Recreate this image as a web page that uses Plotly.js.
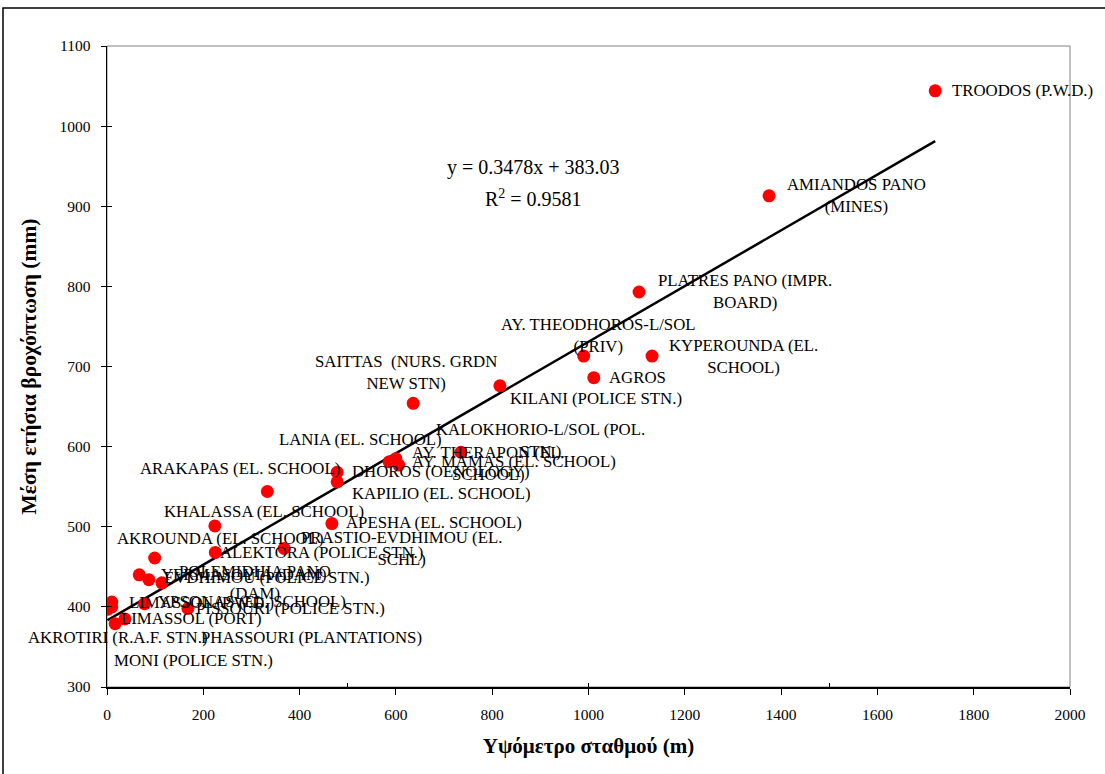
<!DOCTYPE html>
<html>
<head>
<meta charset="utf-8">
<script src="https://cdn.plot.ly/plotly-3.0.1.min.js"></script>
<style>html,body{margin:0;padding:0;background:#fff;}#chart{width:1105px;height:774px;}</style>
</head>
<body>
<div id="chart"></div>
<script>
// Station names
const stationNames = [
  "TROODOS (P.W.D.)",
  "AMIANDOS PANO<br>(MINES)",
  "PLATRES PANO (IMPR.<br>BOARD)",
  "AY. THEODHOROS-L/SOL<br>(PRIV)",
  "KYPEROUNDA (EL.<br>SCHOOL)",
  "AGROS",
  "KILANI (POLICE STN.)",
  "SAITTAS  (NURS. GRDN<br>NEW STN)",
  "KALOKHORIO-L/SOL (POL.<br>STN.)",
  "AY. THERAPON (EL.<br>SCHOOL)",
  "AY. MAMAS (EL. SCHOOL)",
  "LANIA (EL. SCHOOL)",
  "DHOROS (OENOLOGY)",
  "KAPILIO (EL. SCHOOL)",
  "ARAKAPAS (EL. SCHOOL)",
  "APESHA (EL. SCHOOL)",
  "KHALASSA (EL. SCHOOL)",
  "PRASTIO-EVDHIMOU (EL.<br>SCHL)",
  "AKROUNDA (EL. SCHOOL)",
  "ALEKTORA (POLICE STN.)",
  "YERMASOYIA (DAM)",
  "POLEMIDHIA PANO<br>(DAM)",
  "EVDHIMOU (POLICE STN.)",
  "LIMASSOL (P.W.D.)",
  "YPSONAS (EL. SCHOOL)",
  "PISSOURI (POLICE STN.)",
  "LIMASSOL (PORT)",
  "AKROTIRI (R.A.F. STN.)",
  "PHASSOURI (PLANTATIONS)",
  "MONI (POLICE STN.)"
];
// Station altitude (m)
const altitude = [1720, 1375, 1105, 990, 1132, 1011, 816, 636, 735, 600, 606, 478, 586, 478, 333, 467, 224, 368, 99, 225, 67, 87, 114, 10, 78, 168, 37, 1, 10, 17];
// Mean annual rainfall (mm)
const rainfall = [1044, 913, 793, 713, 713, 686, 676, 654, 593, 585, 577, 568, 581, 556, 544, 504, 501, 473, 461, 468, 440, 434, 430, 406, 404, 398, 385, 397, 400, 379];
// Trendline as printed on the chart
const trendSlope = 0.3478;
const trendIntercept = 383.03;
const trendEquation = "y = 0.3478x + 383.03";
const trendR2 = "R<sup>2</sup> = 0.9581";

// Label offsets (px) relative to each point
const labelDx = [87, 87, 106, 15, 91, 44, 96, -7, 80, 93, 115, 23, 52, 104, -27, 102, 49, 117, 66, 106, 105, 106, 105, 90, 107, 103, 67, 11, 200, 78];
const labelDy = [0, 0, 0, -21, 0, 0, 13, -31, -12, 5, -4, -33, 10, 12, -23, -1, -14, 0, -20, 0, 0, 3, -5, 0, -2, 0, 0, 28, 31, 37];

const serif = "Liberation Serif, Times New Roman, serif";
const xMin = Math.min(...altitude), xMax = Math.max(...altitude);

const traces = [
  {
    x: [xMin, xMax],
    y: [trendSlope * xMin + trendIntercept, trendSlope * xMax + trendIntercept],
    mode: "lines", type: "scatter",
    line: {color: "#000", width: 2.5},
    hoverinfo: "skip", showlegend: false
  },
  {
    x: altitude, y: rainfall, text: stationNames,
    mode: "markers", type: "scatter",
    marker: {color: "#ff0000", size: 13},
    showlegend: false
  },
  { x: [null], y: [null], xaxis: "x2", yaxis: "y2", type: "scatter", mode: "markers", showlegend: false }
];

const annotations = stationNames.map((name, i) => ({
  x: altitude[i], y: rainfall[i], xref: "x", yref: "y",
  text: name, showarrow: true, arrowcolor: "rgba(0,0,0,0)", arrowwidth: 0.1,
  ax: labelDx[i], ay: labelDy[i], align: "center",
  font: {family: serif, size: 16.8, color: "#000"}
}));
annotations.push({
  x: 0.443, y: 0.811, xref: "paper", yref: "paper", xanchor: "center", yanchor: "middle",
  text: trendEquation, showarrow: false,
  font: {family: serif, size: 20, color: "#000"}
});
annotations.push({
  x: 0.443, y: 0.763, xref: "paper", yref: "paper", xanchor: "center", yanchor: "middle",
  text: trendR2, showarrow: false,
  font: {family: serif, size: 20, color: "#000"}
});

const layout = {
  width: 1105, height: 774,
  margin: {l: 107, r: 35, t: 46, b: 87},
  paper_bgcolor: "#fff", plot_bgcolor: "#fff",
  font: {family: serif, color: "#000"},
  xaxis: {
    range: [0, 2000], dtick: 200, tick0: 0,
    showgrid: false, zeroline: false,
    showline: true, linecolor: "#000", linewidth: 1.5,
    ticks: "outside", ticklen: 6, tickcolor: "#000", tickwidth: 1,
    ticklabelstandoff: 7,
    tickfont: {family: serif, size: 15.5, color: "#000"},
    title: {text: "Υψόμετρο σταθμού (m)", font: {family: serif, size: 21, color: "#000", weight: "bold"}, standoff: 16}
  },
  yaxis: {
    range: [300, 1100], dtick: 100, tick0: 300,
    showgrid: false, zeroline: false,
    showline: true, linecolor: "#000", linewidth: 1.5,
    ticks: "outside", ticklen: 5, tickcolor: "#000", tickwidth: 1,
    ticklabelstandoff: 7,
    tickfont: {family: serif, size: 15.5, color: "#000"},
    title: {text: "Μέση ετήσια βροχόπτωση (mm)", font: {family: serif, size: 21.5, color: "#000", weight: "bold"}, standoff: 17}
  },
  xaxis2: {
    matches: "x", overlaying: "x", anchor: "y", side: "bottom",
    ticks: "inside", ticklen: 4, tickcolor: "#000", tickwidth: 1,
    showticklabels: false, showline: false, showgrid: false, zeroline: false
  },
  yaxis2: {
    matches: "y", overlaying: "y", anchor: "x", side: "left",
    ticks: "inside", ticklen: 5, tickcolor: "#000", tickwidth: 1,
    showticklabels: false, showline: false, showgrid: false, zeroline: false
  },
  shapes: [
    {type: "rect", xref: "paper", yref: "paper", x0: 0, x1: 1, y0: 0, y1: 1,
     line: {color: "#808080", width: 1}, layer: "below"},
    {type: "rect", xref: "paper", yref: "paper", x0: -0.108, x1: 1.045, y0: -0.15, y1: 1.0593,
     line: {color: "#000", width: 1.5}, layer: "below"}
  ],
  annotations: annotations
};

Plotly.newPlot("chart", traces, layout, {displayModeBar: false, staticPlot: true});
</script>
</body>
</html>
